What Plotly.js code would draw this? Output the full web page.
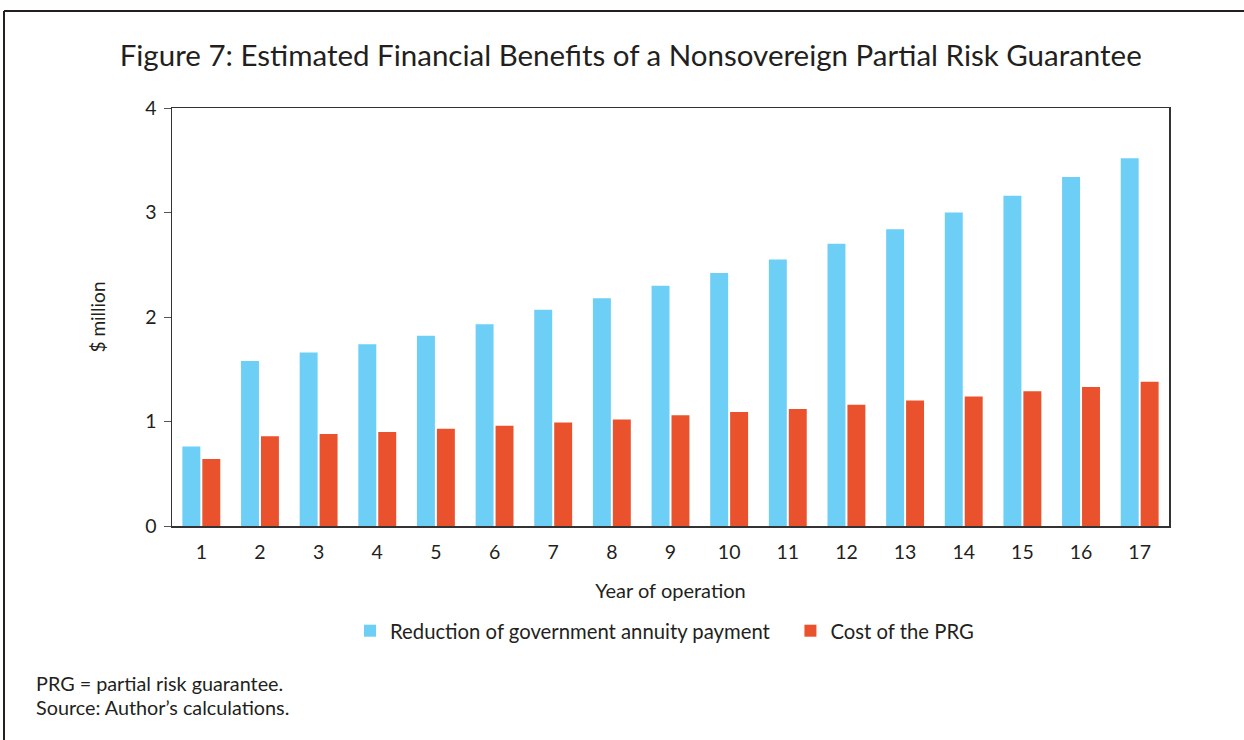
<!DOCTYPE html>
<html>
<head>
<meta charset="utf-8">
<script src="https://cdn.plot.ly/plotly-3.0.1.min.js"></script>
<style>html,body{margin:0;padding:0;background:#fff;}#chart{width:1244px;height:740px;}</style>
</head>
<body>
<div id="chart"></div>
<script>
const years = ['1','2','3','4','5','6','7','8','9','10','11','12','13','14','15','16','17'];
const reductionAnnuity = [0.76,1.58,1.66,1.74,1.82,1.93,2.07,2.18,2.30,2.42,2.55,2.70,2.84,3.00,3.16,3.34,3.52];
const costPRG = [0.64,0.86,0.88,0.90,0.93,0.96,0.99,1.02,1.06,1.09,1.12,1.16,1.20,1.24,1.29,1.33,1.38];
const yTicks = [0,1,2,3,4];

const L = 172, R = 1169, T = 108, B = 526;
const px = x => (x - L) / (R - L);
const py = y => (B - y) / (B - T);
const fontFam = 'Lato, "Open Sans", sans-serif';
const txt = '#231f20';

const data = [
  {type:'bar', name:'Reduction of government annuity payment\u00a0\u00a0\u00a0', x:years, y:reductionAnnuity,
   marker:{color:'#6dcff6'}},
  {type:'bar', name:'Cost of the PRG', x:years, y:costPRG,
   marker:{color:'#e9522c'}}
];

const layout = {
  width:1244, height:740,
  margin:{l:L, r:1244-R, t:T, b:740-B},
  paper_bgcolor:'#fff', plot_bgcolor:'#fff',
  font:{family:fontFam, color:txt, size:19},
  barmode:'group', bargap:0.32, bargroupgap:0.1,
  title:{text:'Figure 7: Estimated Financial Benefits of a Nonsovereign Partial Risk Guarantee',
         font:{family:fontFam, size:29.5, color:txt}, x:0.507, xanchor:'center', y:1-56/740, yanchor:'middle'},
  xaxis:{type:'category', showline:true, linecolor:'#333', linewidth:1.5, mirror:true,
         ticks:'', showgrid:false, tickfont:{size:19.5, color:txt}, ticklabelstandoff:8,
         title:{text:'Year of operation', font:{size:20, color:txt}, standoff:22}},
  yaxis:{range:[0,4], tickvals:yTicks, showline:true, linecolor:'#333', linewidth:1.5, mirror:true,
         ticks:'outside', ticklen:7, tickcolor:'#555', showgrid:false, zeroline:false,
         tickfont:{size:19.5, color:txt}, ticklabelstandoff:3,
         title:{text:'$ million', font:{size:19, color:txt}, standoff:34}},
  showlegend:true,
  legend:{orientation:'h', x:0.494, xanchor:'center', y:py(631), yanchor:'middle',
          font:{size:20.3, color:txt}, itemwidth:30, traceorder:'normal'},
  shapes:[
    {type:'line', xref:'paper', yref:'paper', x0:px(4), x1:px(1244), y0:py(11), y1:py(11), line:{color:'#231f20', width:2}},
    {type:'line', xref:'paper', yref:'paper', x0:px(4), x1:px(4), y0:py(11), y1:py(745), line:{color:'#231f20', width:2}}
  ],
  annotations:[
    {text:'PRG = partial risk guarantee.', xref:'paper', yref:'paper', x:px(34), y:py(683), xanchor:'left', yanchor:'middle', showarrow:false, font:{size:19.8, color:txt}},
    {text:'Source: Author\u2019s calculations.', xref:'paper', yref:'paper', x:px(34), y:py(707), xanchor:'left', yanchor:'middle', showarrow:false, font:{size:19.8, color:txt}}
  ]
};
Plotly.newPlot('chart', data, layout, {displayModeBar:false, staticPlot:true});
</script>
</body>
</html>
